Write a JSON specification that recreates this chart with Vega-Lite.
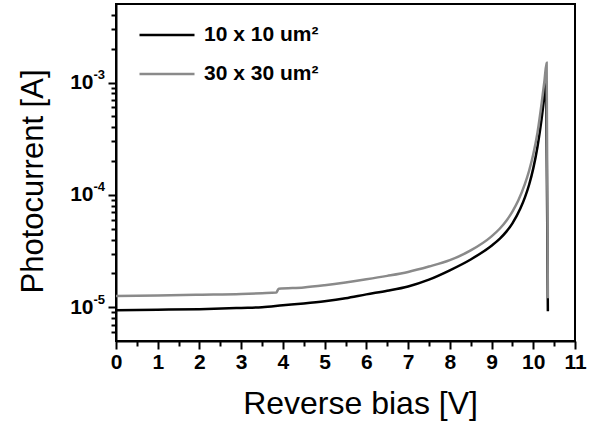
{
  "$schema": "https://vega.github.io/schema/vega-lite/v6.json",
  "autosize": {"type": "none"},
  "padding": {"left": 116, "top": 4, "right": 22, "bottom": 82},
  "width": 459,
  "height": 337,
  "config": {
    "font": "Liberation Sans",
    "view": {"stroke": "#000000", "strokeWidth": 2},
    "axis": {"domainColor": "#000000", "tickColor": "#000000", "labelColor": "#000000", "titleColor": "#000000", "grid": false}
  },
  "data": {
    "values": [
      {"v": 0, "i": 9.4e-6, "s": "10 x 10 um²"},
      {"v": 1, "i": 9.5e-6, "s": "10 x 10 um²"},
      {"v": 2, "i": 9.6e-6, "s": "10 x 10 um²"},
      {"v": 3, "i": 9.85e-6, "s": "10 x 10 um²"},
      {"v": 3.5, "i": 1.0e-5, "s": "10 x 10 um²"},
      {"v": 4, "i": 1.04e-5, "s": "10 x 10 um²"},
      {"v": 4.5, "i": 1.08e-5, "s": "10 x 10 um²"},
      {"v": 5, "i": 1.13e-5, "s": "10 x 10 um²"},
      {"v": 5.5, "i": 1.2e-5, "s": "10 x 10 um²"},
      {"v": 6, "i": 1.3e-5, "s": "10 x 10 um²"},
      {"v": 6.5, "i": 1.4e-5, "s": "10 x 10 um²"},
      {"v": 7, "i": 1.53e-5, "s": "10 x 10 um²"},
      {"v": 7.5, "i": 1.76e-5, "s": "10 x 10 um²"},
      {"v": 8, "i": 2.13e-5, "s": "10 x 10 um²"},
      {"v": 8.5, "i": 2.66e-5, "s": "10 x 10 um²"},
      {"v": 9, "i": 3.53e-5, "s": "10 x 10 um²"},
      {"v": 9.2, "i": 4.08e-5, "s": "10 x 10 um²"},
      {"v": 9.36, "i": 4.73e-5, "s": "10 x 10 um²"},
      {"v": 9.5, "i": 5.58e-5, "s": "10 x 10 um²"},
      {"v": 9.69, "i": 7.55e-5, "s": "10 x 10 um²"},
      {"v": 9.8, "i": 9.5e-5, "s": "10 x 10 um²"},
      {"v": 9.9, "i": 1.23e-4, "s": "10 x 10 um²"},
      {"v": 10.0, "i": 1.72e-4, "s": "10 x 10 um²"},
      {"v": 10.1, "i": 2.67e-4, "s": "10 x 10 um²"},
      {"v": 10.2, "i": 4.75e-4, "s": "10 x 10 um²"},
      {"v": 10.27, "i": 7.8e-4, "s": "10 x 10 um²"},
      {"v": 10.31, "i": 1.0e-3, "s": "10 x 10 um²"},
      {"v": 10.35, "i": 9.2e-6, "s": "10 x 10 um²"},
      {"v": 0, "i": 1.26e-5, "s": "30 x 30 um²"},
      {"v": 1, "i": 1.27e-5, "s": "30 x 30 um²"},
      {"v": 2, "i": 1.29e-5, "s": "30 x 30 um²"},
      {"v": 3, "i": 1.31e-5, "s": "30 x 30 um²"},
      {"v": 3.5, "i": 1.33e-5, "s": "30 x 30 um²"},
      {"v": 3.84, "i": 1.35e-5, "s": "30 x 30 um²"},
      {"v": 3.9, "i": 1.46e-5, "s": "30 x 30 um²"},
      {"v": 4.5, "i": 1.5e-5, "s": "30 x 30 um²"},
      {"v": 5, "i": 1.57e-5, "s": "30 x 30 um²"},
      {"v": 5.5, "i": 1.66e-5, "s": "30 x 30 um²"},
      {"v": 6, "i": 1.77e-5, "s": "30 x 30 um²"},
      {"v": 6.5, "i": 1.9e-5, "s": "30 x 30 um²"},
      {"v": 7, "i": 2.06e-5, "s": "30 x 30 um²"},
      {"v": 7.5, "i": 2.3e-5, "s": "30 x 30 um²"},
      {"v": 8, "i": 2.62e-5, "s": "30 x 30 um²"},
      {"v": 8.5, "i": 3.2e-5, "s": "30 x 30 um²"},
      {"v": 9, "i": 4.27e-5, "s": "30 x 30 um²"},
      {"v": 9.2, "i": 5.02e-5, "s": "30 x 30 um²"},
      {"v": 9.36, "i": 5.92e-5, "s": "30 x 30 um²"},
      {"v": 9.5, "i": 7.1e-5, "s": "30 x 30 um²"},
      {"v": 9.64, "i": 8.9e-5, "s": "30 x 30 um²"},
      {"v": 9.8, "i": 1.25e-4, "s": "30 x 30 um²"},
      {"v": 9.9, "i": 1.64e-4, "s": "30 x 30 um²"},
      {"v": 10.0, "i": 2.3e-4, "s": "30 x 30 um²"},
      {"v": 10.1, "i": 3.56e-4, "s": "30 x 30 um²"},
      {"v": 10.2, "i": 6.5e-4, "s": "30 x 30 um²"},
      {"v": 10.27, "i": 1.05e-3, "s": "30 x 30 um²"},
      {"v": 10.32, "i": 1.5e-3, "s": "30 x 30 um²"},
      {"v": 10.35, "i": 1.2e-5, "s": "30 x 30 um²"}
    ]
  },
  "layer": [
    {
      "mark": {"type": "line", "strokeWidth": 2.5, "clip": true, "interpolate": "monotone"},
      "encoding": {
        "x": {
          "field": "v", "type": "quantitative",
          "scale": {"domain": [0, 11], "nice": false, "zero": false},
          "axis": {
            "orient": "bottom",
            "values": [0, 1, 2, 3, 4, 5, 6, 7, 8, 9, 10, 11],
            "tickSize": 8, "tickWidth": 2, "domainWidth": 2,
            "labelFontSize": 21, "labelFontWeight": "bold", "labelPadding": 2,
            "labelFlush": false, "labelOverlap": false,
            "title": "Reverse bias [V]", "titleFontSize": 32, "titleFontWeight": "normal",
            "titleX": 244, "titleY": 72, "titleAlign": "center", "titleBaseline": "alphabetic"
          }
        },
        "y": {
          "field": "i", "type": "quantitative",
          "scale": {"type": "log", "domain": [5e-6, 5e-3], "nice": false},
          "axis": {
            "orient": "left",
            "values": [1e-5, 1e-4, 1e-3],
            "labelExpr": "'10'",
            "tickSize": 8, "tickWidth": 2, "domainWidth": 2,
            "labelFontSize": 21, "labelFontWeight": "bold", "labelPadding": 15,
            "labelFlush": false, "labelOverlap": false,
            "title": "Photocurrent [A]", "titleFontSize": 31, "titleFontWeight": "normal",
            "titleAngle": -90, "titleX": -74, "titleY": 177, "titleAlign": "center", "titleBaseline": "alphabetic"
          }
        },
        "color": {
          "field": "s", "type": "nominal",
          "scale": {"domain": ["10 x 10 um²", "30 x 30 um²"], "range": ["#000000", "#8a8a8a"]},
          "legend": {
            "title": null, "orient": "none", "legendX": 22, "legendY": 2,
            "padding": 0, "symbolType": "stroke", "symbolSize": 3025, "symbolStrokeWidth": 2.5,
            "labelFontSize": 21, "labelFontWeight": "bold", "labelColor": "#000000",
            "labelOffset": 8, "rowPadding": -20, "labelLimit": 300
          }
        }
      }
    },
    {
      "mark": {"type": "point", "opacity": 0},
      "encoding": {
        "x": {
          "field": "v", "type": "quantitative",
          "axis": {
            "orient": "bottom",
            "values": [0.5, 1.5, 2.5, 3.5, 4.5, 5.5, 6.5, 7.5, 8.5, 9.5, 10.5],
            "labels": false, "domain": false, "tickSize": 5, "tickWidth": 2, "title": null
          }
        },
        "y": {
          "field": "i", "type": "quantitative",
          "axis": {
            "orient": "left",
            "values": [6e-6, 7e-6, 8e-6, 9e-6, 2e-5, 3e-5, 4e-5, 5e-5, 6e-5, 7e-5, 8e-5, 9e-5, 2e-4, 3e-4, 4e-4, 5e-4, 6e-4, 7e-4, 8e-4, 9e-4, 2e-3, 3e-3, 4e-3],
            "labels": false, "domain": false, "tickSize": 5, "tickWidth": 2, "title": null
          }
        }
      }
    },
    {
      "mark": {"type": "point", "opacity": 0},
      "encoding": {
        "y": {
          "field": "i", "type": "quantitative",
          "axis": {
            "orient": "left",
            "values": [1e-5, 1e-4, 1e-3],
            "labelExpr": "datum.value < 5e-5 ? '-5' : datum.value < 5e-4 ? '-4' : '-3'",
            "ticks": false, "tickSize": 0, "domain": false,
            "labelAlign": "left", "labelBaseline": "middle", "labelPadding": 23, "labelOffset": -8,
            "labelFontSize": 13, "labelFontWeight": "bold",
            "labelFlush": false, "labelOverlap": false, "title": null
          }
        }
      }
    }
  ],
  "resolve": {"axis": {"x": "independent", "y": "independent"}}
}
